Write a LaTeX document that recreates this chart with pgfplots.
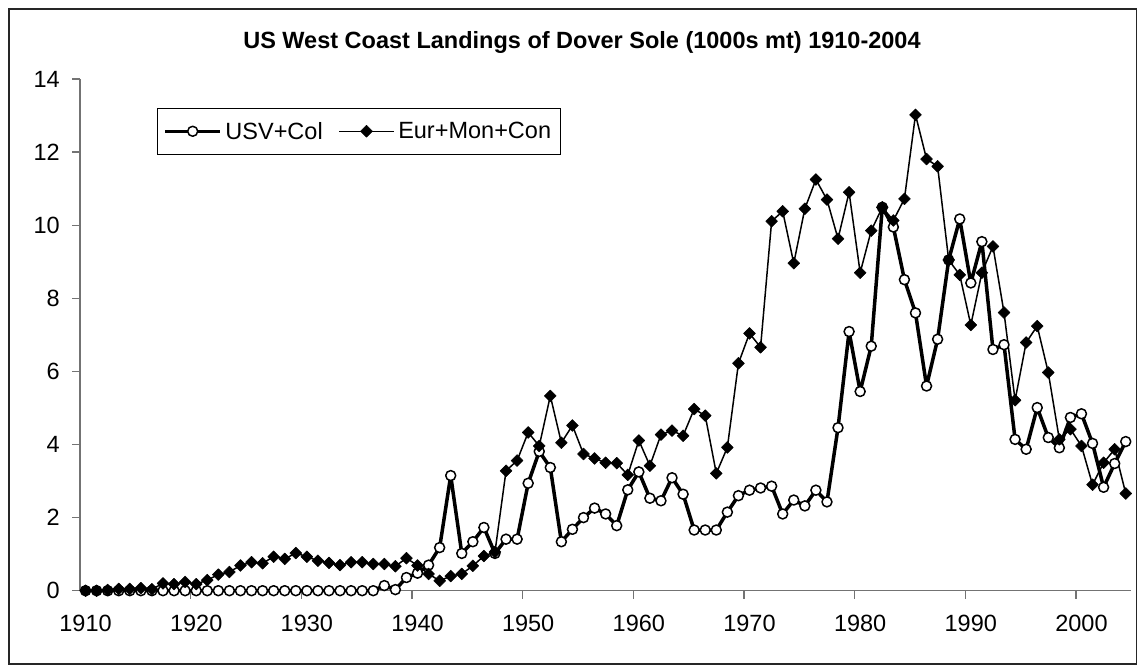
\documentclass[border=0pt]{standalone}
\usepackage{pgfplots}
\pgfplotsset{compat=1.18}
\usepackage{fontspec}
\setmainfont{Liberation Sans}
\newcommand{\tfont}{\fontsize{23.5}{28}\selectfont}
\begin{document}
\begin{tikzpicture}[x=1pt,y=1pt]
\useasboundingbox (-80,-76.3) rectangle (1058,590.7);
\draw[line width=1.8pt, black!85] (-71,-73.3) rectangle (1056.5,581.7);
\begin{axis}[
  at={(0,0)}, anchor=south west,
  scale only axis, width=1051.3pt, height=511.7pt,
  xmin=1909.5, xmax=2004.5, ymin=0, ymax=14,
  clip=false,
  axis x line=bottom, axis y line=left,
  axis line style={-, draw=black!55, line width=1.3pt},
  tick style={draw=black!55, line width=1.3pt},
  major tick length=8pt, tick align=outside,
  ytick={0,2,...,14},
  xtick={1919.5,1929.5,1939.5,1949.5,1959.5,1969.5,1979.5,1989.5,1999.5},
  xticklabels={},
  extra x ticks={1910,1920,1930,1940,1950,1960,1970,1980,1990,2000},
  extra x tick labels={1910,1920,1930,1940,1950,1960,1970,1980,1990,2000},
  extra x tick style={major tick length=0pt, xticklabel shift=21pt},
  /pgf/number format/assume math mode=true,
  ticklabel style={font=\tfont, text=black},
  yticklabel style={anchor=east, inner sep=0pt, xshift=-12pt},
  legend columns=2,
  legend style={at={(0.0732,0.9433)}, anchor=north west, draw=black, line width=1pt,
    fill=white, inner xsep=6pt, inner ysep=8.5pt, font=\tfont,
    nodes={inner xsep=3.5pt, inner ysep=5pt}},
  /tikz/every even column/.append style={column sep=12pt},
  legend image code/.code={\draw[#1, mark repeat=2, mark phase=2] plot coordinates {(0pt,0pt) (27.5pt,0pt) (55pt,0pt)};},
]
\addplot[black, line width=3.5pt, line join=round, mark=*, mark size=5pt,
  mark options={fill=white, draw=black, line width=1.5pt}] coordinates {
(1910,0) (1911,0) (1912,0) (1913,0) (1914,0) (1915,0) (1916,0) (1917,0) (1918,0) (1919,0)
(1920,0) (1921,0) (1922,0) (1923,0) (1924,0) (1925,0) (1926,0) (1927,0) (1928,0) (1929,0)
(1930,0) (1931,0) (1932,0) (1933,0) (1934,0) (1935,0) (1936,0) (1937,0.14) (1938,0.03) (1939,0.36)
(1940,0.48) (1941,0.70) (1942,1.18) (1943,3.15) (1944,1.02) (1945,1.34) (1946,1.73) (1947,1.02) (1948,1.41) (1949,1.41)
(1950,2.94) (1951,3.81) (1952,3.37) (1953,1.34) (1954,1.68) (1955,2.00) (1956,2.26) (1957,2.10) (1958,1.78) (1959,2.76)
(1960,3.25) (1961,2.53) (1962,2.46) (1963,3.09) (1964,2.64) (1965,1.66) (1966,1.66) (1967,1.66) (1968,2.15) (1969,2.60)
(1970,2.75) (1971,2.81) (1972,2.86) (1973,2.10) (1974,2.48) (1975,2.32) (1976,2.75) (1977,2.43) (1978,4.46) (1979,7.09)
(1980,5.45) (1981,6.69) (1982,10.49) (1983,9.95) (1984,8.51) (1985,7.60) (1986,5.60) (1987,6.88) (1988,9.05) (1989,10.17)
(1990,8.42) (1991,9.55) (1992,6.60) (1993,6.73) (1994,4.14) (1995,3.87) (1996,5.01) (1997,4.19) (1998,3.91) (1999,4.74)
(2000,4.84) (2001,4.03) (2002,2.83) (2003,3.48) (2004,4.08)
};
\addlegendentry{USV+Col}
\addplot[black, line width=1.5pt, line join=round, mark=square*, mark size=4.2pt,
  mark options={rotate=45, fill=black, draw=black, line width=0.5pt}] coordinates {
(1910,0) (1911,0) (1912,0.02) (1913,0.05) (1914,0.05) (1915,0.07) (1916,0.04) (1917,0.20) (1918,0.18) (1919,0.24)
(1920,0.18) (1921,0.29) (1922,0.44) (1923,0.51) (1924,0.69) (1925,0.78) (1926,0.75) (1927,0.93) (1928,0.87) (1929,1.03)
(1930,0.93) (1931,0.82) (1932,0.76) (1933,0.70) (1934,0.78) (1935,0.78) (1936,0.73) (1937,0.73) (1938,0.67) (1939,0.89)
(1940,0.69) (1941,0.46) (1942,0.27) (1943,0.40) (1944,0.46) (1945,0.68) (1946,0.95) (1947,1.06) (1948,3.28) (1949,3.56)
(1950,4.33) (1951,3.96) (1952,5.33) (1953,4.05) (1954,4.52) (1955,3.74) (1956,3.62) (1957,3.50) (1958,3.49) (1959,3.17)
(1960,4.11) (1961,3.42) (1962,4.27) (1963,4.38) (1964,4.24) (1965,4.97) (1966,4.79) (1967,3.21) (1968,3.92) (1969,6.22)
(1970,7.04) (1971,6.66) (1972,10.11) (1973,10.38) (1974,8.96) (1975,10.45) (1976,11.25) (1977,10.70) (1978,9.63) (1979,10.90)
(1980,8.70) (1981,9.85) (1982,10.49) (1983,10.13) (1984,10.72) (1985,13.02) (1986,11.81) (1987,11.61) (1988,9.05) (1989,8.64)
(1990,7.27) (1991,8.70) (1992,9.42) (1993,7.61) (1994,5.21) (1995,6.79) (1996,7.24) (1997,5.97) (1998,4.14) (1999,4.42)
(2000,3.96) (2001,2.90) (2002,3.50) (2003,3.87) (2004,2.66)
};
\addlegendentry{Eur+Mon+Con}
\end{axis}
\node[font=\bfseries\tfont] at (502,548.7) {US West Coast Landings of Dover Sole (1000s mt) 1910-2004};
\end{tikzpicture}
\end{document}
